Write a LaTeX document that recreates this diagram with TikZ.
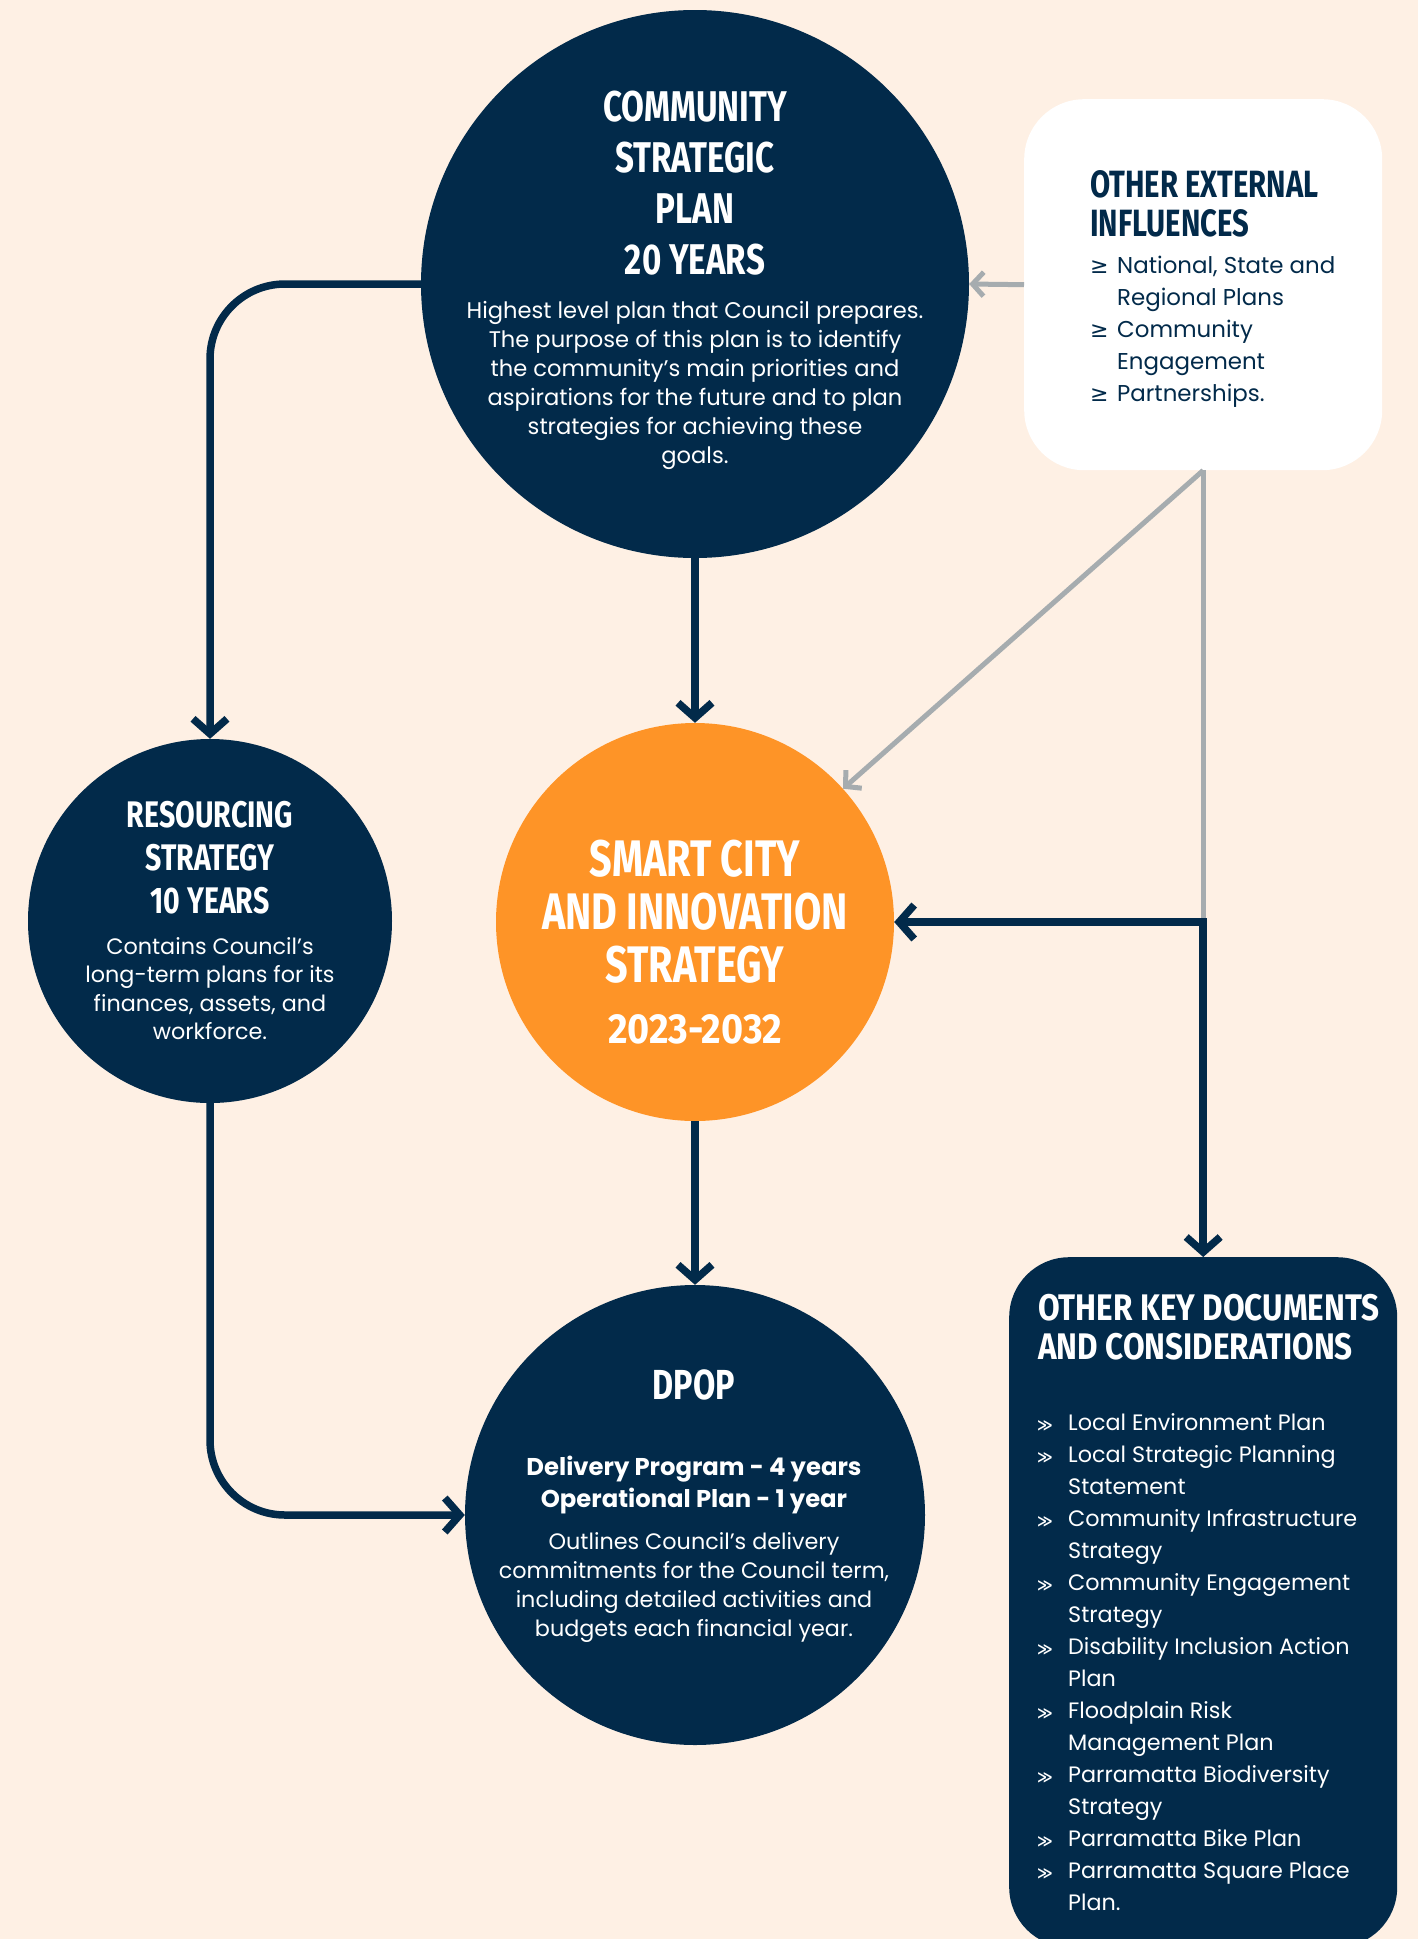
\documentclass[tikz,border=0pt]{standalone}
\usepackage{fontspec}
\setmainfont{Poppins}
\newfontfamily\bodyfont{Poppins}
\newfontfamily\headfont[FakeStretch=0.77]{Fira Sans}
\newfontfamily\wideheadfont[FakeStretch=0.9]{Fira Sans}
\newfontfamily\keyheadfont[FakeStretch=0.85]{Fira Sans}
\newfontfamily\symfont{DejaVu Sans}
\usetikzlibrary{arrows.meta}
\definecolor{bgc}{HTML}{FEF0E4}
\definecolor{navy}{HTML}{022A4A}
\definecolor{orng}{HTML}{FE9427}
\definecolor{grayc}{HTML}{A6ACAF}
\newcommand{\extbul}{{\symfont\fontsize{22}{22}\selectfont ≥}}
\newcommand{\keybul}{{\symfont\bfseries\fontsize{15}{15}\selectfont ≫}}
\begin{document}
\begin{tikzpicture}[x=1pt,y=-1pt,
  navyarrow/.style={draw=navy,line width=7.5pt,-{Straight Barb[length=15pt,width=34pt]}},
  grayarrow/.style={draw=grayc,line width=5pt,-{Straight Barb[length=11pt,width=24pt]}},
  grayline/.style={draw=grayc,line width=5pt},
  disc/.style={circle,inner sep=0pt,draw=none},
  wtxt/.style={text=white,align=center,inner sep=0pt,anchor=north},
  ]
\fill[bgc] (0,0) rectangle (1418,1939);
\useasboundingbox (0,0) rectangle (1418,1939);

% shapes
\node[disc,fill=navy,minimum size=548pt] (csp) at (695,284) {};
\node[fill=white,rounded corners=60pt,minimum width=358pt,minimum height=371pt,inner sep=0pt,anchor=north west] (ext) at (1024,99) {};
\node[disc,fill=navy,minimum size=364pt] (res) at (210,921) {};
\node[disc,fill=orng,minimum size=398pt] (orng) at (695,922) {};
\node[disc,fill=navy,minimum size=460pt] (dpop) at (695,1515) {};
\node[fill=navy,rounded corners=60pt,minimum width=388pt,minimum height=690pt,inner sep=0pt,anchor=north west] (keys) at (1009,1257) {};

% connectors
\draw[navyarrow,rounded corners=75pt] (csp.west) -| (res.north);
\draw[navyarrow,rounded corners=75pt] (res.south) |- (dpop.west);
\draw[navyarrow] (csp.south) -- (orng.north);
\draw[navyarrow] (orng.south) -- (dpop.north);
\draw[grayarrow] (ext.west) -- (csp.east);
\draw[grayarrow] (ext.south) -- (orng.42);
\coordinate (j) at (ext.south |- orng.east);
\draw[grayline] (ext.south) -- (j);
\draw[draw=navy,line width=7.5pt,{Straight Barb[length=15pt,width=34pt]}-{Straight Barb[length=15pt,width=34pt]}] (orng.east) -| (keys.north);

% texts
\node[wtxt,font=\headfont\bfseries\fontsize{43}{51}\selectfont] (csph) at (695,91) {COMMUNITY\\STRATEGIC\\PLAN\\20 YEARS};
\node[wtxt,font=\bodyfont\fontsize{22.6}{29}\selectfont] (cspb) at (695,301) {Highest level plan that Council prepares.\\The purpose of this plan is to identify\\the community’s main priorities and\\aspirations for the future and to plan\\strategies for achieving these\\goals.};

\node[text=navy,align=left,inner sep=0pt,anchor=north west,font=\headfont\bfseries\fontsize{38}{39.5}\selectfont] (exth) at (1090,170) {OTHER EXTERNAL\\INFLUENCES};
\node[text=navy,inner sep=0pt,anchor=north west,font=\bodyfont\fontsize{22.9}{32}\selectfont] (extl) at (1090,251) {\begin{tabular}{@{}p{27pt}@{}l@{}}\extbul & National, State and\\ & Regional Plans\\ \extbul & Community\\ & Engagement\\ \extbul & Partnerships.\end{tabular}};

\node[wtxt,font=\headfont\bfseries\fontsize{37}{43}\selectfont] (resh) at (210,801) {RESOURCING\\STRATEGY\\10 YEARS};
\node[wtxt,font=\bodyfont\fontsize{22.3}{28.5}\selectfont] (resb) at (210,937) {Contains Council’s\\long-term plans for its\\finances, assets, and\\workforce.};

\node[wtxt,font=\headfont\bfseries\fontsize{51.4}{53}\selectfont] (orngh) at (695,840) {SMART CITY\\AND INNOVATION\\STRATEGY};
\node[wtxt,font=\wideheadfont\bfseries\fontsize{42}{42}\selectfont] (orngy) at (695,1014) {2023-2032};

\node[wtxt,font=\headfont\bfseries\fontsize{42}{42}\selectfont] (dpoph) at (694,1369) {DPOP};
\node[wtxt,font=\bodyfont\bfseries\fontsize{24.3}{32}\selectfont] (dpops) at (694,1456) {Delivery Program - 4 years\\Operational Plan - 1 year};
\node[wtxt,font=\bodyfont\fontsize{22.3}{29}\selectfont] (dpopb) at (694,1532) {Outlines Council’s delivery\\commitments for the Council term,\\including detailed activities and\\budgets each financial year.};

\node[text=white,align=left,inner sep=0pt,anchor=north west,font=\keyheadfont\bfseries\fontsize{37}{39.5}\selectfont] (keyh) at (1038,1294) {OTHER KEY DOCUMENTS\\AND CONSIDERATIONS};
\node[text=white,inner sep=0pt,anchor=north west,font=\bodyfont\fontsize{22.3}{32}\selectfont] (keyl) at (1037,1408) {\begin{tabular}{@{}p{31pt}@{}l@{}}
\keybul & Local Environment Plan\\
\keybul & Local Strategic Planning\\ & Statement\\
\keybul & Community Infrastructure\\ & Strategy\\
\keybul & Community Engagement\\ & Strategy\\
\keybul & Disability Inclusion Action\\ & Plan\\
\keybul & Floodplain Risk\\ & Management Plan\\
\keybul & Parramatta Biodiversity\\ & Strategy\\
\keybul & Parramatta Bike Plan\\
\keybul & Parramatta Square Place\\ & Plan.
\end{tabular}};
\end{tikzpicture}
\end{document}
